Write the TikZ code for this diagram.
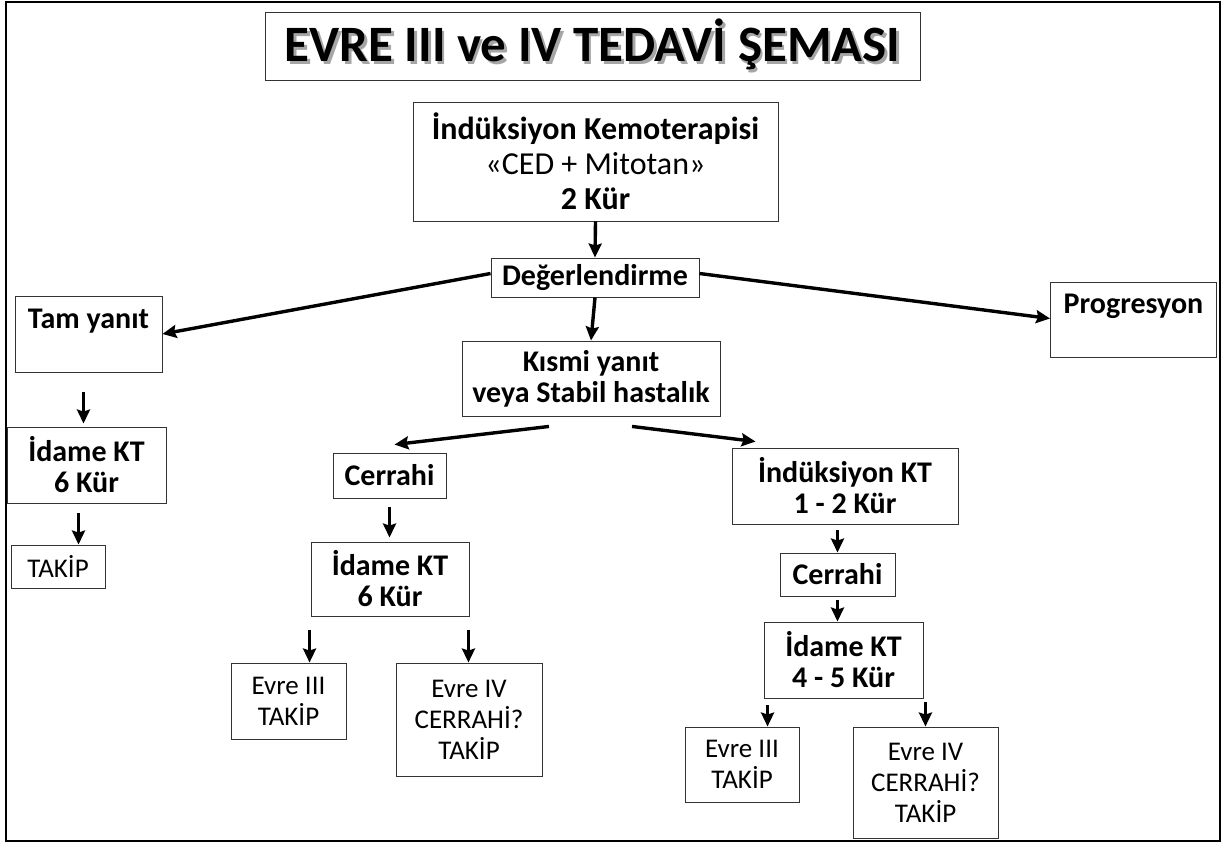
\documentclass[tikz,border=0pt]{standalone}
\usepackage{fontspec}
\usetikzlibrary{arrows.meta}
\setmainfont{Carlito}
\newcommand{\golgeli}[1]{\makebox[0pt][l]{\hspace{2.5pt}\raisebox{-2.5pt}{\textcolor{black!35}{#1}}}#1}
\tikzset{
	kutu/.style={draw=black!80,line width=0.9pt,align=center,inner sep=0pt,font=\bfseries\fontsize{30}{31}\selectfont},
	ince/.style={kutu,font=\fontsize{27}{31}\selectfont},
	ok/.style={->,line width=3.4pt},
}
\begin{document}
\begin{tikzpicture}[>={Stealth[length=14pt,width=13pt,inset=2pt]},x=1pt,y=-1pt]
	\useasboundingbox (0,0) rectangle (1223,843);
	\draw[line width=1.5pt] (6,2) rectangle (1220,841);
	% baslik
	\node[kutu,minimum width=655,minimum height=68,font=\bfseries\fontsize{51}{54}\selectfont] (baslik) at (592.5,46)
		{\golgeli{EVRE III ve IV TEDAVİ ŞEMASI}};
	% ust kisim
	\node[kutu,minimum width=365,minimum height=119,font=\fontsize{32}{35}\selectfont] (induk) at (595.5,161.5)
		{\textbf{İndüksiyon Kemoterapisi}\\«CED + Mitotan»\\\textbf{2 Kür}};
	\node[kutu,minimum width=208,minimum height=39] (deger) at (595,277.5) {Değerlendirme};
	\node[kutu,minimum width=147,minimum height=76] (tam) at (88.5,334) {Tam yanıt\\\mbox{}};
	\node[kutu,minimum width=166,minimum height=75] (prog) at (1133.5,319.5) {Progresyon\\\mbox{}};
	\node[kutu,minimum width=258,minimum height=75] (kismi) at (591,378.5) {Kısmi yanıt\\veya Stabil hastalık};
	% tam yanit kolu
	\node[kutu,minimum width=159,minimum height=76] (idame0) at (86.5,465) {İdame KT\\6 Kür};
	\node[ince,minimum width=94,minimum height=43] (takip0) at (58,566.5) {TAKİP};
	% sol kol
	\node[kutu,minimum width=113,minimum height=45] (cerrahi1) at (389.5,475.5) {Cerrahi};
	\node[kutu,minimum width=158,minimum height=74] (idame1) at (390,579) {İdame KT\\6 Kür};
	\node[ince,minimum width=115,minimum height=76] (evreUcA) at (288.5,701) {Evre III\\TAKİP};
	\node[ince,minimum width=146,minimum height=113] (evreDortA) at (469,719.5) {Evre IV\\CERRAHİ?\\TAKİP};
	% sag kol
	\node[kutu,minimum width=226,minimum height=76] (induk2) at (845,486) {İndüksiyon KT\\1 - 2 Kür};
	\node[kutu,minimum width=115,minimum height=43] (cerrahi2) at (837.5,574.5) {Cerrahi};
	\node[kutu,minimum width=159,minimum height=76] (idame2) at (843.5,660) {İdame KT\\4 - 5 Kür};
	\node[ince,minimum width=114,minimum height=75] (evreUcB) at (742,764.5) {Evre III\\TAKİP};
	\node[ince,minimum width=145,minimum height=111] (evreDortB) at (925.5,782.5) {Evre IV\\CERRAHİ?\\TAKİP};
	% oklar
	\draw[ok] (induk.south) -- (deger.north);
	\draw[ok] ([yshift=4]deger.west) -- (tam.east);
	\draw[ok] ([yshift=4]deger.east) -- ([yshift=1]prog.west);
	\draw[ok] (deger.south) -- (kismi.north);
	\draw[ok] ([shift={(-42,10)}]kismi.south) -- ([shift={(5,-8)}]cerrahi1.north);
	\draw[ok] ([shift={(41,10)}]kismi.south) -- ([shift={(24,-6)}]induk2.north west);
	\draw[ok,shorten <=20pt,shorten >=3pt] ([xshift=-5]tam.south) -- ([xshift=-5]tam.south |- idame0.north);
	\draw[ok,shorten <=10pt] ([xshift=-8]idame0.south) -- ([xshift=-8]idame0.south |- takip0.north);
	\draw[ok,shorten <=9pt,shorten >=4pt] (cerrahi1.south) -- (cerrahi1.south |- idame1.north);
	\draw[ok,shorten <=14pt] ([xshift=-1]idame1.south west) -- ([xshift=-1]idame1.south west |- evreUcA.north);
	\draw[ok,shorten <=14pt] ([xshift=-1]idame1.south east) -- ([xshift=-1]idame1.south east |- evreDortA.north);
	\draw[ok,shorten <=6pt] (cerrahi2.north |- induk2.south) -- (cerrahi2.north);
	\draw[ok,shorten <=4pt] (cerrahi2.south) -- (cerrahi2.south |- idame2.north);
	\draw[ok,shorten <=7pt] ([xshift=4]idame2.south west) -- ([xshift=4]idame2.south west |- evreUcB.north);
	\draw[ok,shorten <=4pt] ([xshift=2]idame2.south east) -- ([xshift=2]idame2.south east |- evreDortB.north);
\end{tikzpicture}
\end{document}
